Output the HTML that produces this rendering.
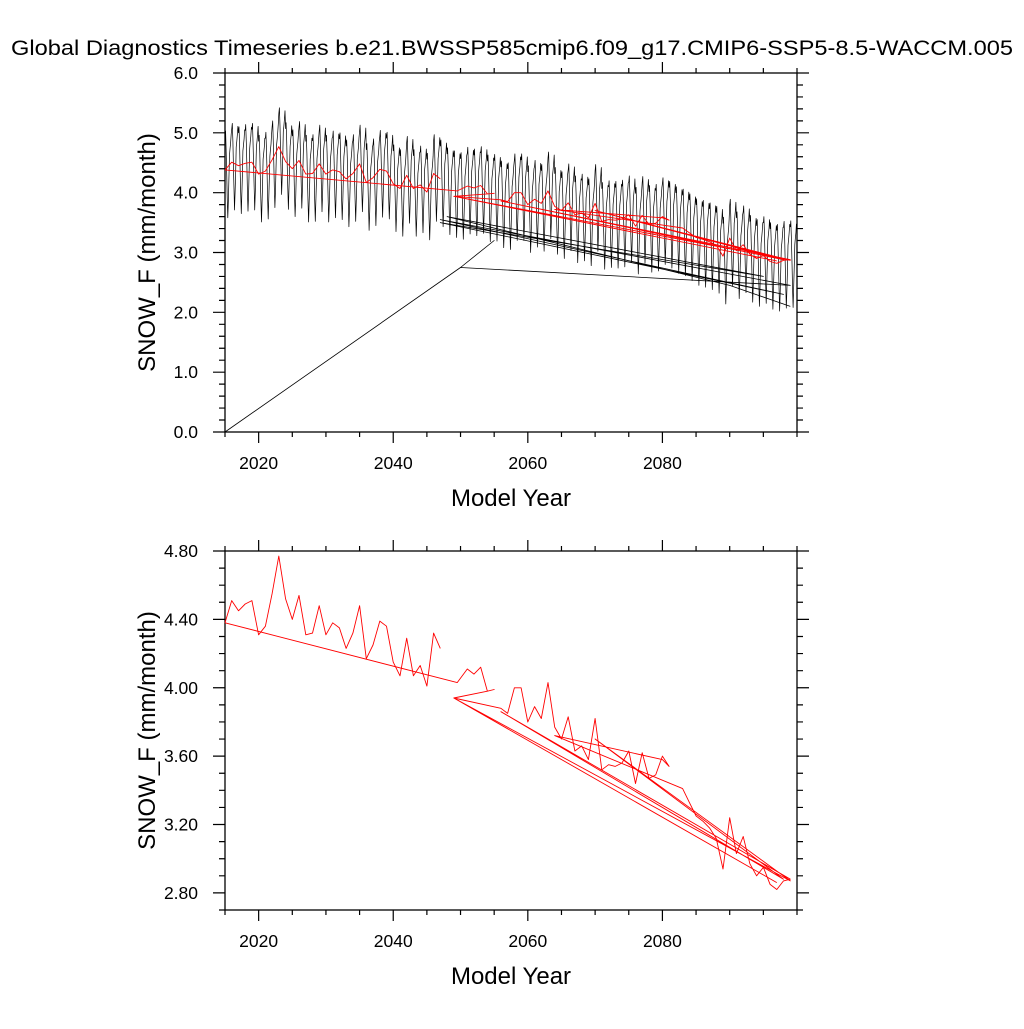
<!DOCTYPE html>
<html><head><meta charset="utf-8"><style>
body{margin:0;background:#fff;}
svg text{font-family:"Liberation Sans",sans-serif;fill:#000;}
</style></head><body>
<svg id="chart" width="1024" height="1024" viewBox="0 0 1024 1024">
<text x="512" y="55" font-size="21" text-anchor="middle" textLength="1002" lengthAdjust="spacingAndGlyphs">Global Diagnostics Timeseries b.e21.BWSSP585cmip6.f09_g17.CMIP6-SSP5-8.5-WACCM.005</text>
<g id="p1"></g>
<g id="p2"></g>
</svg>
<script>
// annual mean snowfall (mm/month), segment 1 years 2015..2047
const years1 = [2015,2016,2017,2018,2019,2020,2021,2022,2023,2024,2025,2026,2027,2028,2029,2030,2031,2032,2033,2034,2035,2036,2037,2038,2039,2040,2041,2042,2043,2044,2045,2046,2047];
const vals1 = [4.38,4.51,4.45,4.49,4.51,4.31,4.36,4.55,4.77,4.52,4.40,4.54,4.31,4.32,4.48,4.31,4.38,4.35,4.23,4.32,4.48,4.17,4.25,4.39,4.36,4.15,4.07,4.29,4.07,4.13,4.01,4.32,4.23];
// segment 2 (wrapped/concatenated record)
const years2 = [2015,2049.5,2051,2052,2053,2054,2055,2054,2049,2056,2057,2058,2059,2060,2061,2062,2063,2064,2065,2066,2067,2068,2069,2070,2071,2072,2073,2074,2075,2076,2077,2078,2079,2080,2081,2080,2064,2083,2084,2085,2086,2087,2088,2089,2090,2091,2092,2093,2094,2095,2096,2097,2098,2099,2056,2098,2070,2099,2049,2097];
const vals2 = [4.38,4.03,4.11,4.08,4.12,3.98,3.99,3.98,3.94,3.88,3.85,4.00,4.00,3.80,3.89,3.82,4.03,3.77,3.70,3.83,3.63,3.66,3.58,3.82,3.52,3.55,3.54,3.56,3.63,3.44,3.62,3.47,3.49,3.60,3.54,3.58,3.72,3.41,3.33,3.25,3.22,3.18,3.12,2.94,3.24,3.03,3.13,2.97,2.90,2.95,2.85,2.82,2.87,2.88,3.86,2.88,3.70,2.87,3.94,2.86];
// continuous monthly record: annual means 2048..2099
const yearsM = [2048,2049,2050,2051,2052,2053,2054,2055,2056,2057,2058,2059,2060,2061,2062,2063,2064,2065,2066,2067,2068,2069,2070,2071,2072,2073,2074,2075,2076,2077,2078,2079,2080,2081,2082,2083,2084,2085,2086,2087,2088,2089,2090,2091,2092,2093,2094,2095,2096,2097,2098,2099];
const valsM = [4.10,4.05,4.02,4.11,4.08,4.12,3.98,3.99,3.88,3.85,4.00,4.00,3.80,3.89,3.82,4.03,3.77,3.70,3.83,3.63,3.66,3.58,3.82,3.52,3.55,3.54,3.56,3.63,3.44,3.62,3.47,3.49,3.60,3.54,3.45,3.41,3.33,3.25,3.22,3.18,3.12,2.94,3.24,3.03,3.13,2.97,2.90,2.95,2.85,2.82,2.87,2.88];
// seasonal anomaly (Jan..Dec)
const season = [0.55,0.65,0.35,-0.05,-0.45,-0.8,-0.5,-0.15,0.25,0.35,0.45,0.6];
// black wrap segments [year,value]
const wrapX = [2015,2050,2055,2050,2099,2047,2098,2047,2095,2048,2090,2099];
const wrapY = [0.0,2.75,3.20,2.75,2.45,3.55,2.30,3.50,2.60,3.60,2.45,2.10];
const ticks1 = ["0.0","1.0","2.0","3.0","4.0","5.0","6.0"];
const tickv1 = [0,1,2,3,4,5,6];
const ticks2 = ["2.80","3.20","3.60","4.00","4.40","4.80"];
const tickv2 = [2.8,3.2,3.6,4.0,4.4,4.8];
const xticks = [2020,2040,2060,2080];

const NS="http://www.w3.org/2000/svg";
function mk(t,a,p){const e=document.createElementNS(NS,t);for(const k in a)e.setAttribute(k,a[k]);p.appendChild(e);return e;}
function panel(g,top,ymin,ymax,tv,tl,yminor){
  const L=225,R=797,T=top,B=top+359;
  const sx=y=>L+(y-2015)/(2100-2015)*(R-L);
  const sy=v=>B-(v-ymin)/(ymax-ymin)*(B-T);
  const f=mk('rect',{x:L,y:T,width:R-L,height:B-T,fill:'none',stroke:'#000','stroke-width':1.3},g);
  
  let d='';
  for(let y=2015;y<=2100;y+=5){const big=xticks.includes(y);const l=big?11:5;const x=sx(y);
    d+=`M${x} ${B}v${l}M${x} ${T}v${-l}`;}
  for(let v=ymin;v<=ymax+1e-9;v+=yminor){const big=tv.some(t=>Math.abs(t-v)<1e-6);const l=big?12:6;const y=sy(v);
    d+=`M${L} ${y}h${-l}M${R} ${y}h${l}`;}
  const tk=mk('path',{d:d,stroke:'#000','stroke-width':1.2,fill:'none'},g);
  
  xticks.forEach(y=>{const t=mk('text',{x:sx(y),y:B+37,'font-size':17.5,'text-anchor':'middle'},g);t.textContent=y;
    });
  tv.forEach((v,i)=>{const t=mk('text',{x:L-27,y:sy(v)+6,'font-size':17.5,'text-anchor':'end'},g);t.textContent=tl[i];
    });
  const xt=mk('text',{x:(L+R)/2,y:B+74,'font-size':24,'text-anchor':'middle'},g);xt.textContent='Model Year';
  
  const yt=mk('text',{x:0,y:0,'font-size':24,'text-anchor':'middle',transform:`translate(${L-70},${(T+B)/2}) rotate(-90)`},g);yt.textContent='SNOW_F (mm/month)';
  
  return {sx,sy,L,R,T,B};
}
function line(g,xs,ys,a,color,w,name){
  const d=xs.map((x,i)=>(i?'L':'M')+a.sx(x).toFixed(1)+' '+a.sy(ys[i]).toFixed(1)).join('');
  const p=mk('path',{d:d,stroke:color,'stroke-width':w,fill:'none','stroke-linejoin':'round'},g);
  
}
function monthly(yrs,vals){const xs=[],ys=[];
  yrs.forEach((y,i)=>{season.forEach((s,m)=>{xs.push(y+m/12);ys.push(vals[i]+s);});});return [xs,ys];}

const g1=document.getElementById('p1'),g2=document.getElementById('p2');
const a1=panel(g1,73,0,6,tickv1,ticks1,0.2);
const a2=panel(g2,551,2.7,4.8,tickv2,ticks2,0.1);
const m=monthly(years1.concat(yearsM),vals1.concat(valsM));
line(g1,m[0],m[1],a1,'#000',0.7,'monthly-series');
line(g1,wrapX,wrapY,a1,'#000',0.8,'monthly-wrap-lines');
line(g1,years1,vals1,a1,'#f00',0.9,'annual-series-1');
line(g1,years2,vals2,a1,'#f00',0.9,'annual-series-2');
line(g2,years1,vals1,a2,'#f00',0.9,'annual-series-1');
line(g2,years2,vals2,a2,'#f00',0.9,'annual-series-2');
</script>
</body></html>
